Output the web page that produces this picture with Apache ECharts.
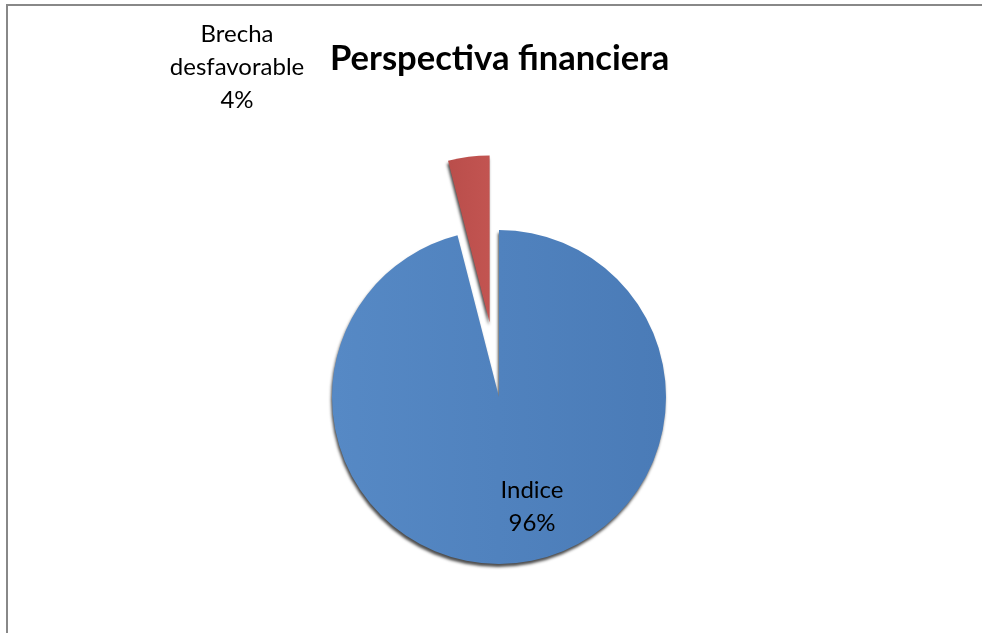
<!DOCTYPE html>
<html>
<head>
<meta charset="utf-8">
<script src="https://cdn.jsdelivr.net/npm/echarts@6/dist/echarts.min.js"></script>
<style>html,body{margin:0;padding:0;background:#fff}#c{width:982px;height:633px}</style>
</head>
<body>
<div id="c"></div>
<script>
const categories = ['Indice', 'Brecha desfavorable'];
const values = [96, 4];
const titleText = 'Perspectiva financiera';

const chart = echarts.init(document.getElementById('c'));
const FONT = 'Lato';
const fmt = (name, v) => name.replace(' ', '\n') + '\n' + v + '%';

const data = categories.map((name, i) => ({
  name: name,
  value: values[i],
  selected: i === 1,
  label: {show: i === 0},
  itemStyle: {
    color: i === 0
      ? new echarts.graphic.LinearGradient(0, 0, 1, 0, [{offset: 0, color: '#5689C5'}, {offset: 1, color: '#4A7BB7'}])
      : new echarts.graphic.LinearGradient(0, 0, 1, 0, [{offset: 0, color: '#BA4E4B'}, {offset: 1, color: '#C25451'}])
  }
}));

chart.setOption({
  animation: false,
  backgroundColor: '#fff',
  graphic: [{
    type: 'rect', shape: {x: 7, y: 5, width: 1100, height: 800},
    style: {fill: 'none', stroke: '#888', lineWidth: 2}, silent: true, z: -1
  }, {
    type: 'text', x: 237, y: 67,
    style: {
      text: fmt(categories[1], values[1]), fontFamily: FONT, fontSize: 24, lineHeight: 33,
      fill: '#000', align: 'center', verticalAlign: 'middle'
    }
  }],
  title: {
    text: titleText, left: 325, top: 36,
    textStyle: {fontFamily: FONT, fontWeight: 'bold', fontSize: 34.6, color: '#000'}
  },
  series: [{
    type: 'pie',
    center: [499, 397],
    radius: [0, 167],
    startAngle: 90,
    clockwise: true,
    selectedMode: 'single',
    selectedOffset: 75,
    data: data,
    itemStyle: {
      borderWidth: 0,
      shadowBlur: 3, shadowOffsetX: -1, shadowOffsetY: 3, shadowColor: 'rgba(0,0,0,0.7)'
    },
    label: {
      position: 'inside',
      formatter: p => fmt(p.name, p.value),
      fontFamily: FONT, fontSize: 24, lineHeight: 33, color: '#000', align: 'center'
    },
    labelLine: {show: false},
    labelLayout: function (p) {
      return {x: 532, y: 507, align: 'center', verticalAlign: 'middle'};
    },
    emphasis: {disabled: true}
  }]
});
</script>
</body>
</html>
